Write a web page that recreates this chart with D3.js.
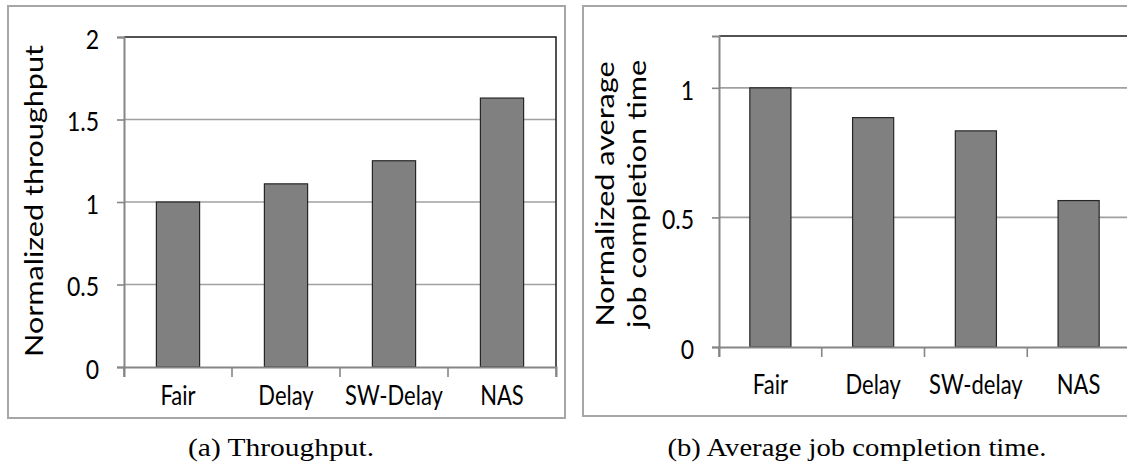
<!DOCTYPE html>
<html>
<head>
<meta charset="utf-8">
<script src="https://cdn.jsdelivr.net/npm/d3@7"></script>
<style>
  html, body { margin: 0; padding: 0; background: #fff; }
  svg { display: block; }
  text { font-family: Lato, "Open Sans", sans-serif; fill: #000; }
  .cap { font-family: "Liberation Serif", "DejaVu Serif", serif; }
</style>
</head>
<body>
<svg id="chart" width="1127" height="467"></svg>
<script>
// ---- data ----
const categoriesA = ["Fair", "Delay", "SW-Delay", "NAS"];
const throughput = [1.0, 1.11, 1.25, 1.63];
const ticksA = [0, 0.5, 1, 1.5, 2];
const tickLabelsA = ["0", "0.5", "1", "1.5", "2"];

const categoriesB = ["Fair", "Delay", "SW-delay", "NAS"];
const completion = [1.0, 0.885, 0.834, 0.565];
const ticksB = [0, 0.5, 1];
const tickLabelsB = ["0", "0.5", "1"];

const titleA = ["Normalized throughput"];
const titleB = ["Normalized average", "job completion time"];
const captionA = "(a) Throughput.";
const captionB = "(b) Average job completion time.";

// ---- drawing ----
const svg = d3.select("#chart");
const K = 1.2; // vertical stretch of the original figure text

function panel(cfg) {
  const g = svg.append("g");
  // outer frame
  g.append("rect")
    .attr("x", cfg.box[0]).attr("y", cfg.box[1])
    .attr("width", cfg.box[2] - cfg.box[0]).attr("height", cfg.box[3] - cfg.box[1])
    .attr("fill", "none").attr("stroke", "#a6a6a6").attr("stroke-width", 2);

  const x = d3.scaleBand().domain(cfg.cats).range([cfg.plot[0], cfg.plot[2]]).padding(0);
  const y = d3.scaleLinear().domain(cfg.domain).range([cfg.plot[3], cfg.plot[1]]);

  // gridlines
  g.append("g").selectAll("line").data(cfg.ticks.filter(t => t !== 0 && t !== cfg.domain[1]))
    .join("line")
    .attr("x1", cfg.plot[0]).attr("x2", cfg.plot[2])
    .attr("y1", d => y(d)).attr("y2", d => y(d))
    .attr("stroke", "#a0a0a0").attr("stroke-width", 1.6);

  // top & right border
  g.append("path")
    .attr("d", `M${cfg.plot[0]},${y(cfg.domain[1])}H${cfg.plot[2]}V${cfg.plot[3]}`)
    .attr("fill", "none").attr("stroke", "#1a1a1a").attr("stroke-width", 1.5);

  // bars
  const bw = x.bandwidth() * 0.4;
  g.append("g").selectAll("rect").data(cfg.vals)
    .join("rect")
    .attr("x", (d, i) => x(cfg.cats[i]) + (x.bandwidth() - bw) / 2)
    .attr("width", bw)
    .attr("y", d => y(d))
    .attr("height", d => y(0) - y(d))
    .attr("fill", "#808080").attr("stroke", "#262626").attr("stroke-width", 1.2);

  // y axis
  const yAxis = d3.axisLeft(y).tickValues(cfg.ticks).tickSize(7).tickFormat("");
  const ya = g.append("g").attr("transform", `translate(${cfg.plot[0]},0)`).call(yAxis);
  ya.select(".domain").attr("stroke", "#868686").attr("stroke-width", 2);
  ya.selectAll(".tick line").attr("stroke", "#868686").attr("stroke-width", 1.6);

  // x axis
  const xAxis = d3.axisBottom(x).tickSize(10).tickFormat("");
  const xa = g.append("g").attr("transform", `translate(0,${cfg.plot[3]})`).call(xAxis);
  xa.select(".domain").attr("stroke", "#868686").attr("stroke-width", 2);
  xa.selectAll(".tick").remove();
  const bounds = d3.range(cfg.cats.length + 1).map(i => cfg.plot[0] + i * x.step());
  xa.selectAll("line.bt").data(bounds).join("line").attr("class", "bt")
    .attr("x1", d => d).attr("x2", d => d).attr("y1", 0).attr("y2", 10)
    .attr("stroke", "#868686").attr("stroke-width", 1.6);

  // y tick labels
  g.append("g").selectAll("text").data(cfg.ticks).join("text")
    .attr("transform", d => `translate(${cfg.tickLabelX},${y(d) + 1}) scale(1,${K})`)
    .attr("text-anchor", "end").attr("dominant-baseline", "central")
    .attr("font-size", 23)
    .text((d, i) => cfg.tickLabels[i]);

  // x labels
  g.append("g").selectAll("text").data(cfg.cats).join("text")
    .attr("transform", d => `translate(${x(d) + x.bandwidth() / 2},${cfg.xLabelY}) scale(1,${K})`)
    .attr("text-anchor", "middle")
    .attr("font-size", 22)
    .text(d => d);

  // y title
  cfg.title.forEach((t, i) => {
    g.append("text")
      .attr("transform", `translate(${cfg.titleX[i]},${cfg.titleY}) scale(1,${K}) rotate(-90)`)
      .attr("text-anchor", "middle")
      .attr("font-size", 25.5)
      .text(t);
  });

  // caption
  g.append("text").attr("class", "cap")
    .attr("x", cfg.capX).attr("y", 456)
    .attr("text-anchor", "middle")
    .attr("font-size", 26)
    .attr("textLength", cfg.capLen).attr("lengthAdjust", "spacingAndGlyphs")
    .text(cfg.caption);
}

panel({
  box: [8, 6, 565, 418],
  plot: [124, 37, 556, 367],
  cats: categoriesA, vals: throughput,
  domain: [0, 2], ticks: ticksA, tickLabels: tickLabelsA,
  tickLabelX: 99, xLabelY: 405,
  title: titleA, titleX: [43], titleY: 201,
  caption: captionA, capX: 281, capLen: 186
});

panel({
  box: [583, 6, 1132, 416],
  plot: [719, 36, 1130, 347],
  cats: categoriesB, vals: completion,
  domain: [0, 1.2], ticks: ticksB, tickLabels: tickLabelsB,
  tickLabelX: 694, xLabelY: 394,
  title: titleB, titleX: [614, 646], titleY: 194,
  caption: captionB, capX: 857, capLen: 379
});
</script>
</body>
</html>
